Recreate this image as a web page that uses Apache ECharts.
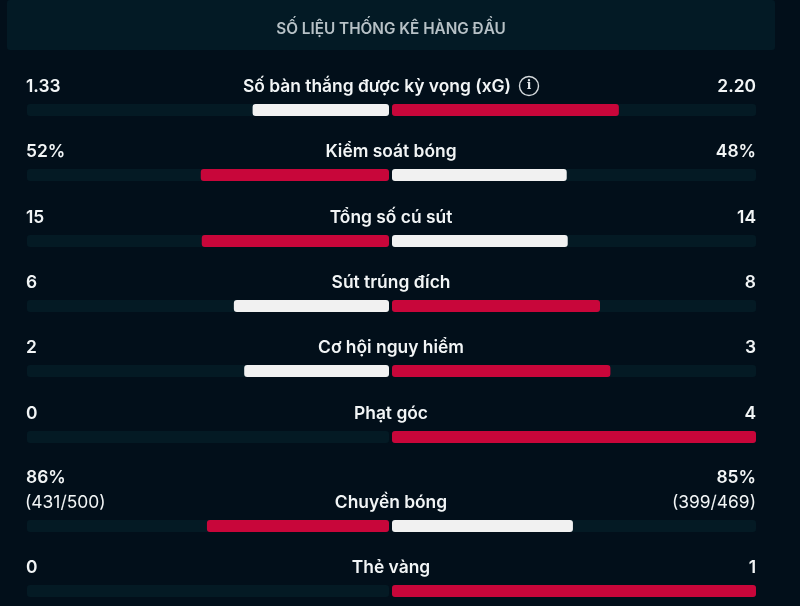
<!DOCTYPE html>
<html><head><meta charset="utf-8">
<style>html,body{margin:0;padding:0;background:#020f1a}#c{width:800px;height:606px}</style>
<script src="https://cdn.jsdelivr.net/npm/echarts@6/dist/echarts.min.js"></script>
</head><body><div id="c"></div>
<script>
const chartTitle = 'SỐ LIỆU THỐNG KÊ HÀNG ĐẦU';
const statNames = ['Số bàn thắng được kỳ vọng (xG)','Kiểm soát bóng','Tổng số cú sút','Sút trúng đích','Cơ hội nguy hiểm','Phạt góc','Chuyền bóng','Thẻ vàng'];
const homeLabels = ['1.33','52%','15','6','2','0','86%','0'];
const awayLabels = ['2.20','48%','14','8','3','4','85%','1'];
const homeSub = ['','','','','','','(431/500)',''];
const awaySub = ['','','','','','','(399/469)',''];
const homeValues = [1.33,52,15,6,2,0,86,0];
const awayValues = [2.20,48,14,8,3,4,85,1];

const RED='#c8063a', WHITE='#f1f1f1', TRACK='#041a24', BG='#020f1a', PANEL='#031a25', TXT='#f2f5f6';
const FONT='Inter';
const barY=[104,169,235,300,365,431,520,585];
const labelY=[87,152,218,283,348,414,503,568];
const grids=[],xAxes=[],yAxes=[],series=[],graphics=[];

function txt(x,y,t,align,opt){
  return {type:'text',x,y,silent:true,style:Object.assign({text:t,fill:TXT,font:'600 17.4px '+FONT,textAlign:align,textVerticalAlign:'middle'},opt||{})};
}
graphics.push({type:'rect',z:-1,silent:true,shape:{x:7,y:0,width:768,height:50,r:3},style:{fill:PANEL}});
graphics.push(txt(391,29,chartTitle,'center',{fill:'#b7c1c6',font:'600 15.3px '+FONT}));

statNames.forEach((name,i)=>{
  const total=homeValues[i]+awayValues[i];
  const isHomeHigher=homeValues[i]>awayValues[i];
  const sides=[
    {left:27,width:362,inverse:true,vals:homeValues,color:isHomeHigher?RED:WHITE},
    {left:392,width:364,inverse:false,vals:awayValues,color:isHomeHigher?WHITE:RED}
  ];
  sides.forEach(s=>{
    const g=grids.length;
    grids.push({left:s.left,width:s.width,top:barY[i],height:12,containLabel:false});
    xAxes.push({type:'value',gridIndex:g,min:0,max:total,inverse:s.inverse,show:false});
    yAxes.push({type:'category',gridIndex:g,data:[name],show:false});
    series.push({type:'bar',xAxisIndex:g,yAxisIndex:g,data:[s.vals[i]],barWidth:12,silent:true,
      showBackground:true,backgroundStyle:{color:TRACK,borderRadius:3},
      itemStyle:{color:s.color,borderRadius:3}});
  });
  const cx = i===0 ? 377 : 391;
  graphics.push(txt(cx,labelY[i],name,'center'));
  const hy = homeSub[i] ? labelY[i]-25 : labelY[i];
  graphics.push(txt(26,hy,homeLabels[i],'left'));
  graphics.push(txt(756,hy,awayLabels[i],'right'));
  if(homeSub[i]){
    graphics.push(txt(25,labelY[i],homeSub[i],'left',{font:'400 17.4px '+FONT}));
    graphics.push(txt(756,labelY[i],awaySub[i],'right',{font:'400 17.4px '+FONT}));
  }
});
// info icon beside the xG label
graphics.push({type:'circle',silent:true,shape:{cx:529,cy:86,r:9.5},style:{fill:'none',stroke:'#d5dadd',lineWidth:1.4}});
graphics.push(txt(529,86,'i','center',{font:'700 12px "DejaVu Serif"',fill:'#e5e9eb'}));

const chart=echarts.init(document.getElementById('c'),null,{renderer:'canvas'});
chart.setOption({backgroundColor:BG,animation:false,grid:grids,xAxis:xAxes,yAxis:yAxes,series,graphic:graphics});
</script></body></html>
